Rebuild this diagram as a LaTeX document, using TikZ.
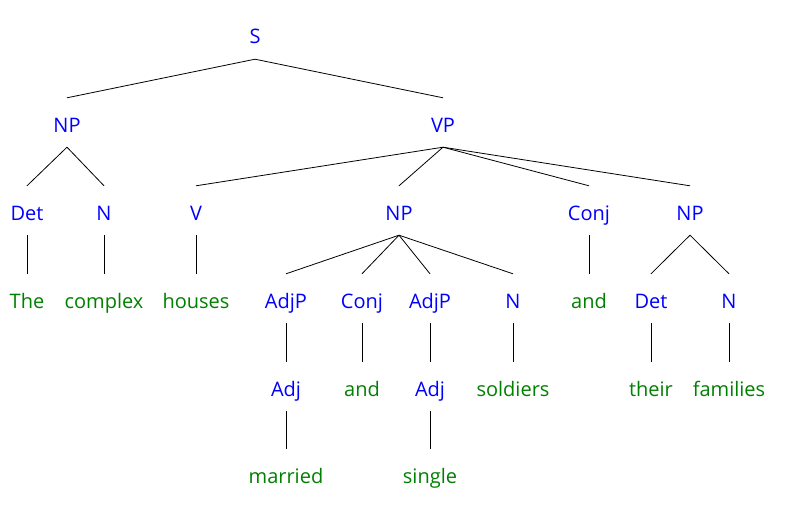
\documentclass[tikz,border=0pt]{standalone}
\usepackage{fontspec}
\setmainfont{Open Sans}
\usepackage{xcolor}
\definecolor{catblue}{RGB}{0,0,255}
\definecolor{wordgreen}{RGB}{0,128,0}

\begin{document}
\begin{tikzpicture}[
  x=1pt, y=-1pt,
  font=\fontsize{20}{24}\selectfont,
  cat/.style={anchor=base, inner sep=0pt, text height=34pt, text depth=15pt,
              text=catblue},
  word/.style={anchor=base, inner sep=0pt, text height=34pt, text depth=15pt,
               text=wordgreen},
  br/.style={draw=black, line width=0.8pt}
]
\useasboundingbox (0,0) rectangle (794,508);

% ---------------------------------------------- top
\node[cat] (s)   at (255, 44) {S};
\node[cat] (np1) at ( 67,132) {NP};
\node[cat] (vp)  at (443,132) {VP};

% ---------------------------------------------- row three
\node[cat] (det1)  at ( 27,220) {Det};
\node[cat] (n1)    at (104,220) {N};
\node[cat] (v)     at (196,220) {V};
\node[cat] (np2)   at (399,220) {NP};
\node[cat] (conj1) at (589,220) {Conj};
\node[cat] (np3)   at (690,220) {NP};

% ---------------------------------------------- row four
\node[word] (the)     at ( 27,308) {The};
\node[word] (complex) at (104,308) {complex};
\node[word] (houses)  at (196,308) {houses};
\node[cat]  (adjp1)   at (286,308) {AdjP};
\node[cat]  (conj2)   at (362,308) {Conj};
\node[cat]  (adjp2)   at (430,308) {AdjP};
\node[cat]  (n2)      at (513,308) {N};
\node[word] (and1)    at (589,308) {and};
\node[cat]  (det2)    at (651,308) {Det};
\node[cat]  (n3)      at (729,308) {N};

% ---------------------------------------------- row five
\node[cat]  (adj1)     at (286,396) {Adj};
\node[word] (and2)     at (362,396) {and};
\node[cat]  (adj2)     at (430,396) {Adj};
\node[word] (soldiers) at (513,396) {soldiers};
\node[word] (their)    at (651,396) {their};
\node[word] (families) at (729,396) {families};

% ---------------------------------------------- row six
\node[word] (married) at (286,483) {married};
\node[word] (single)  at (430,483) {single};

% ---------------------------------------------- branches
\draw[br] (s.south) -- (np1.north);
\draw[br] (s.south) -- (vp.north);

\draw[br] (np1.south) -- (det1.north);
\draw[br] (np1.south) -- (n1.north);
\foreach \c in {v, np2, conj1, np3}
  \draw[br] (vp.south) -- (\c.north);

\draw[br] (det1.south)  -- (the.north);
\draw[br] (n1.south)    -- (complex.north);
\draw[br] (v.south)     -- (houses.north);
\foreach \c in {adjp1, conj2, adjp2, n2}
  \draw[br] (np2.south) -- (\c.north);
\draw[br] (conj1.south) -- (and1.north);
\draw[br] (np3.south)   -- (det2.north);
\draw[br] (np3.south)   -- (n3.north);

\draw[br] (adjp1.south) -- (adj1.north);
\draw[br] (conj2.south) -- (and2.north);
\draw[br] (adjp2.south) -- (adj2.north);
\draw[br] (n2.south)    -- (soldiers.north);
\draw[br] (det2.south)  -- (their.north);
\draw[br] (n3.south)    -- (families.north);

\draw[br] (adj1.south) -- (married.north);
\draw[br] (adj2.south) -- (single.north);

\end{tikzpicture}
\end{document}
